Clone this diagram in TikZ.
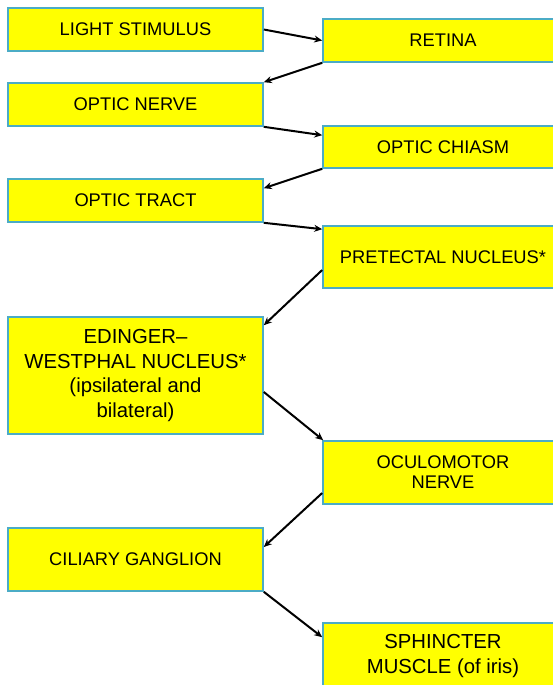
\documentclass[tikz,border=0pt]{standalone}
\usepackage{fontspec}
\setmainfont{Liberation Sans}
\usetikzlibrary{arrows.meta}
\definecolor{boxblue}{HTML}{4BACC6}
\definecolor{boxyellow}{HTML}{FFFF00}
\tikzset{
  stagebox/.style={draw=boxblue, line width=1.6pt, fill=boxyellow, inner sep=0pt,
    align=center, text=black, font=\fontsize{18.3}{20}\selectfont},
  leftbox/.style={stagebox, minimum width=255pt},
  rightbox/.style={stagebox, minimum width=240pt},
  bigtext/.style={font=\fontsize{20.3}{24.5}\selectfont},
  flow/.style={line width=2pt, draw=black, -{Stealth[length=8pt,width=7pt]}}
}
\begin{document}
\begin{tikzpicture}[x=1pt,y=-1pt]
\useasboundingbox (0,0) rectangle (553,685);
\clip (0,0) rectangle (553,685);
\fill[white] (0,0) rectangle (553,685);

\node[leftbox, minimum height=43pt] (light) at (135.5,29.5) {LIGHT STIMULUS};
\node[rightbox, minimum height=43pt] (retina) at (443,40.5) {RETINA};
\node[leftbox, minimum height=43pt] (onerve) at (135.5,104.5) {OPTIC NERVE};
\node[rightbox, minimum height=42pt] (chiasm) at (443,147) {OPTIC CHIASM};
\node[leftbox, minimum height=43pt] (tract) at (135.5,200.5) {OPTIC TRACT};
\node[rightbox, minimum height=62pt] (pretectal) at (443,257) {PRETECTAL NUCLEUS*};
\node[leftbox, bigtext, minimum height=117pt] (edinger) at (135.5,375.5) {EDINGER--\\WESTPHAL NUCLEUS*\\(ipsilateral and\\bilateral)};
\node[rightbox, minimum height=63pt] (oculo) at (443,472.5) {OCULOMOTOR\\NERVE};
\node[leftbox, minimum height=63pt] (ciliary) at (135.5,559.5) {CILIARY GANGLION};
\node[rightbox, bigtext, minimum height=66pt] (sphincter) at (443,656) {SPHINCTER\\MUSCLE (of iris)};

\draw[flow] (light.east) -- (retina.west);
\draw[flow] (retina.south west) -- (onerve.north east);
\draw[flow] (onerve.south east) -- ([yshift=-10pt]chiasm.north west);
\draw[flow] (chiasm.south west) -- ([yshift=-10pt]tract.north east);
\draw[flow] (tract.south east) -- ([yshift=-4pt]pretectal.north west);
\draw[flow] ([yshift=-13pt]pretectal.west) -- ([yshift=-9pt]edinger.north east);
\draw[flow] ([yshift=-16.5pt]edinger.east) -- ([xshift=1pt]oculo.north west);
\draw[flow] ([yshift=-20.5pt]oculo.west) -- ([yshift=12.5pt]ciliary.east);
\draw[flow] (ciliary.south east) -- ([yshift=-15pt]sphincter.north west);
\end{tikzpicture}
\end{document}
